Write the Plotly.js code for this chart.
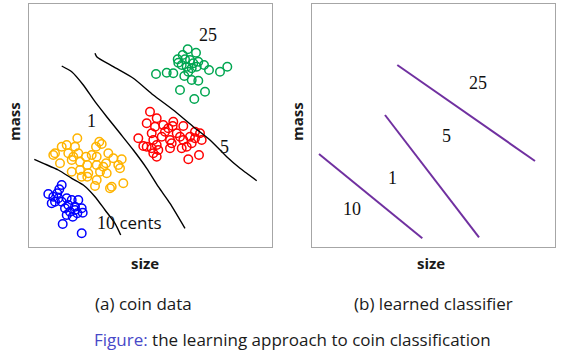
<!DOCTYPE html>
<html>
<head>
<meta charset="utf-8">
<script src="https://cdn.plot.ly/plotly-3.0.1.min.js"></script>
<style>html,body{margin:0;padding:0;background:#fff;}#chart{width:567px;height:360px;}</style>
</head>
<body>
<div id="chart"></div>
<script>
// ---- Panel (a): coin data (size vs mass, arbitrary units 0..243) ----
var coin25X = [158.7,167,153.7,148.7,156,161,164.3,169.3,175,152.7,157.7,162.7,144.3,137.7,127,155.3,162.7,169.3,180,191,198.3,151,176,165.3,149.3,167.7,159.3];
var coin25Y = [197.7,194.3,192,187.7,187.7,187,183.7,185.3,182,182,180.3,178.7,173.7,174.3,173,171,167,166.3,177,175.3,180.3,157,155.3,148,184.3,180.3,175.3];

var coin5X = [121,117.7,127.7,126,134.3,139.3,143.7,144.3,154.3,166,109.3,114.3,122.7,124.3,127.7,132.7,136,141,142.7,151,154.3,157.7,152.7,162.7,166,172.7,124.3,129.3,141,159.3,170,127.7,117.7,122.7,147.7,161,171];
var coin5Y = [135.3,123.7,128.7,120.3,122,118.7,121,125.3,121,115.3,108.7,101,113.7,107,102,110.3,115.3,107,103.7,110.3,107,100.3,98.7,103.7,108.7,107,93.7,97,98.7,87.7,92,90.3,100.3,98.7,113.7,110.3,113.7];

var coin1X = [48.3,37.7,46,70.3,67,72.7,24.3,26,39.3,49.3,57,67.7,79.3,84.3,92.7,31,42.7,51,58.3,67.7,77,89.3,42.7,51,59.3,71,77.7,91,58.3,67.7,66,82.7,81,94.3,32.7,44.3,62.7,74.3,52.7];
var coin1Y = [108.7,102,100.3,105.3,100.3,103,92,93.7,93.7,93.7,90.3,90.3,93.7,88.7,87.7,83.7,87,85.3,82,82,83.7,82,75.3,77,73.7,75.3,73.7,78.7,70.3,67,61,60.3,58.7,63.7,100.3,90.3,92,80.3,70.3];

var coin10X = [32.7,30.3,28.3,19.3,24.3,26,22.7,37.7,42.7,49.3,32.7,39.3,46,36,52.7,41,48.3,37.7,43.7,53.7,33.7,52.7,29.3,46];
var coin10Y = [62,57.7,53.7,53,50.3,45.3,43.7,48.7,47,47,45.3,42,40.3,38.7,38.7,35.3,33.7,32,30.3,34.3,23,13.7,48.7,37];

// hand-drawn decision boundaries in panel (a)
var boundA_X = [5.3,14.3,29.3,42.7,54.3,66,76,86,91.7];
var boundA_Y = [87.7,83.7,77,68.7,62,50.3,37,23.7,12];
var boundB_X = [32.7,42.7,54.3,66,77.7,91,104.3,117.7,129.3,141,156];
var boundB_Y = [181,175.3,162,145.3,130.3,113.7,97,78.7,60.3,43.7,18.7];
var boundC_X = [66,67.7,84.3,104.3,124.3,144.3,164.3,181,197.7,211,217.7,227.7];
var boundC_Y = [193.7,190.3,180.3,168.7,152,137,120.3,107,90.3,78.7,73.7,66.3];

// ---- Panel (b): learned classifier (straight boundaries) ----
var lineTopX = [85.3,223];   var lineTopY = [182,86];
var lineMidX = [73,167];     var lineMidY = [132,9.7];
var lineLowX = [7,110.3];    var lineLowY = [93,8.7];

// texts
var leftLabels  = ['25','1','5','10'];
var rightLabels = ['25','5','1','10'];
var axisX = 'size', axisY = 'mass';
var captionA = '(a) coin data', captionB = '(b) learned classifier';
var figPrefix = 'Figure:', figText = ' the learning approach to coin classification';

var W = 567, H = 360;
function px(x){return x/W;}
function py(y){return 1 - y/H;}

function pts(x,y,col){
  return {x:x,y:y,type:'scatter',mode:'markers',xaxis:'x',yaxis:'y',hoverinfo:'skip',
    marker:{symbol:'circle-open',size:8.5,color:col,line:{width:1.5,color:col}}};
}
function curve(x,y,ax,col,w){
  return {x:x,y:y,type:'scatter',mode:'lines',xaxis:ax[0],yaxis:ax[1],hoverinfo:'skip',
    line:{color:col,width:w,shape:'spline',smoothing:0.6}};
}
var purple = '#7030a0';
var data = [
  pts(coin25X,coin25Y,'#00a651'),
  pts(coin5X,coin5Y,'#ff0000'),
  pts(coin1X,coin1Y,'#ffb400'),
  pts(coin10X,coin10Y,'#0000ff'),
  curve(boundA_X,boundA_Y,['x','y'],'#000',1.4),
  curve(boundB_X,boundB_Y,['x','y'],'#000',1.4),
  curve(boundC_X,boundC_Y,['x','y'],'#000',1.4),
  curve(lineTopX,lineTopY,['x2','y2'],purple,2),
  curve(lineMidX,lineMidY,['x2','y2'],purple,2),
  curve(lineLowX,lineLowY,['x2','y2'],purple,2)
];

var axBase = {range:[0,243],showgrid:false,zeroline:false,showticklabels:false,ticks:'',
  showline:true,mirror:true,linecolor:'#a6a6a6',linewidth:1,fixedrange:true};
function ax(extra){return Object.assign({},axBase,extra);}

var serif = 'Liberation Serif, DejaVu Serif, serif';
var sans = 'Open Sans, Noto Sans, sans-serif';
function numLabel(t,x,y,xr,yr){
  return {text:t,x:x,y:y,xref:xr,yref:yr,showarrow:false,xanchor:'center',yanchor:'middle',
    font:{family:serif,size:18,color:'#111'}};
}
function pLabel(t,x,y,size,col,rot,fam){
  return {text:t,x:px(x),y:py(y),xref:'paper',yref:'paper',showarrow:false,textangle:rot||0,
    xanchor:'center',yanchor:'middle',
    font:{family:fam||sans,size:size,color:col||'#1a1a1a'}};
}

var annotations = [
  numLabel(leftLabels[0],179,212,'x','y'),
  numLabel(leftLabels[1],62,126,'x','y'),
  numLabel(leftLabels[2],195,100,'x','y'),
  {text:leftLabels[3]+'<span style="font-family:Open Sans, sans-serif;font-size:17px"> cents</span>',
   x:100.5,y:25,xref:'x',yref:'y',showarrow:false,xanchor:'center',yanchor:'middle',
   font:{family:serif,size:18,color:'#111'}},
  numLabel(rightLabels[0],166,164,'x2','y2'),
  numLabel(rightLabels[1],134,111,'x2','y2'),
  numLabel(rightLabels[2],80,69,'x2','y2'),
  numLabel(rightLabels[3],40,38,'x2','y2'),
  pLabel('<b>'+axisX+'</b>',145,263,15),
  pLabel('<b>'+axisX+'</b>',431,263,15),
  pLabel('<b>'+axisY+'</b>',14,122,15,'#1a1a1a',-90),
  pLabel('<b>'+axisY+'</b>',297,122,15,'#1a1a1a',-90),
  pLabel(captionA,143,303,17),
  pLabel(captionB,433,303,17),
  pLabel('<span style="fill:#4848c8">'+figPrefix+'</span>'+figText,292,339,17)
];

var layout = {
  width:W,height:H,margin:{l:0,r:0,t:0,b:0},showlegend:false,
  paper_bgcolor:'#fff',plot_bgcolor:'#fff',
  xaxis:ax({domain:[px(29),px(272)],anchor:'y'}),
  yaxis:ax({domain:[py(247),py(4)],anchor:'x'}),
  xaxis2:ax({domain:[px(312),px(555)],anchor:'y2'}),
  yaxis2:ax({domain:[py(247),py(4)],anchor:'x2'}),
  annotations:annotations
};
Plotly.newPlot('chart',data,layout,{displayModeBar:false,staticPlot:true});
</script>
</body>
</html>
